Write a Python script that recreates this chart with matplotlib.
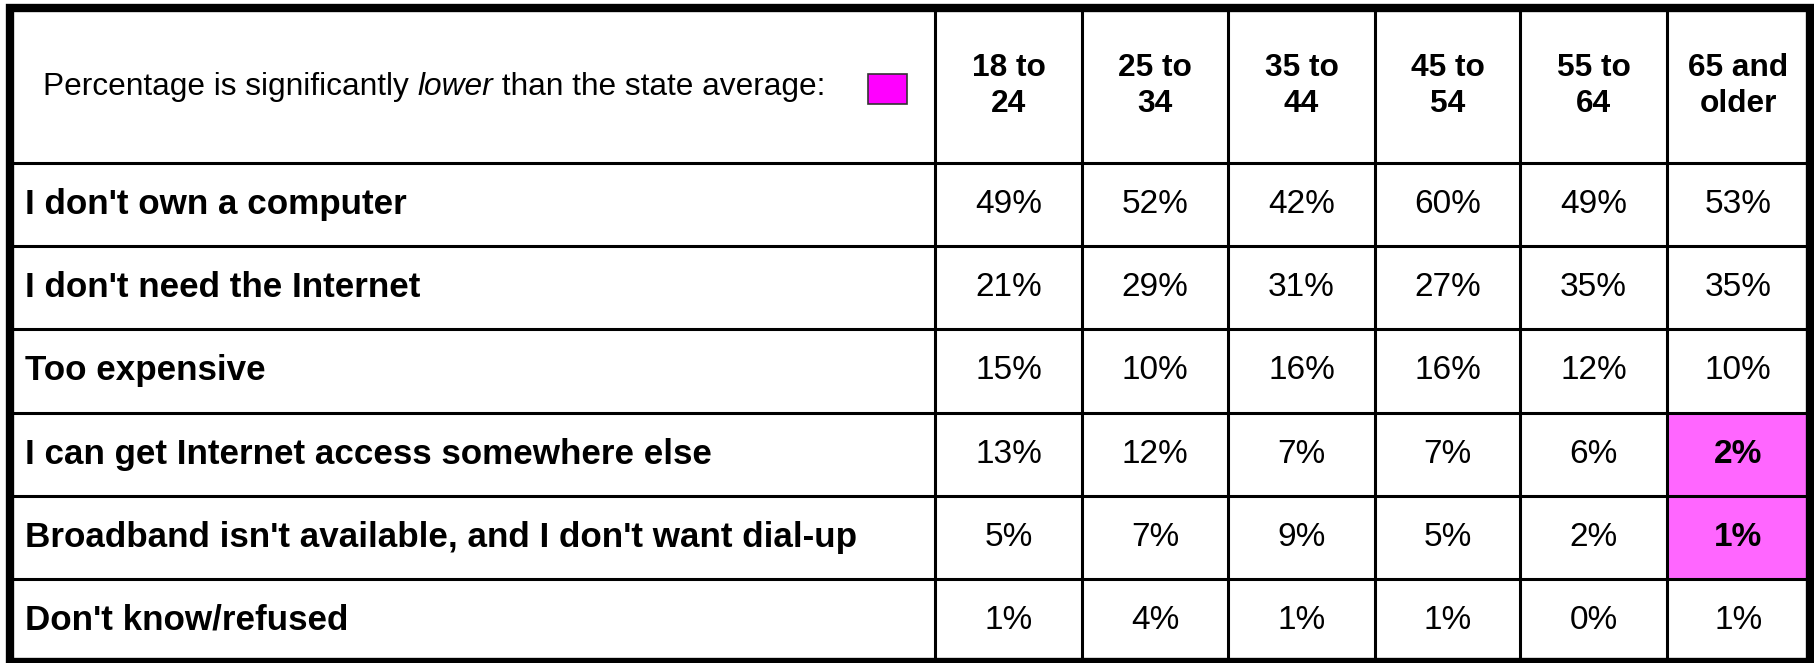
import matplotlib
matplotlib.use("Agg")
import matplotlib.pyplot as plt
from matplotlib.patches import Rectangle

plt.rcParams['font.family'] = ['Liberation Sans', 'DejaVu Sans']

# data
age_groups = ["18 to\n24", "25 to\n34", "35 to\n44", "45 to\n54", "55 to\n64", "65 and\nolder"]
reasons = ["I don't own a computer",
           "I don't need the Internet",
           "Too expensive",
           "I can get Internet access somewhere else",
           "Broadband isn't available, and I don't want dial-up",
           "Don't know/refused"]
pct_own_computer = [49, 52, 42, 60, 49, 53]
pct_need_internet = [21, 29, 31, 27, 35, 35]
pct_expensive = [15, 10, 16, 16, 12, 10]
pct_elsewhere = [13, 12, 7, 7, 6, 2]
pct_broadband = [5, 7, 9, 5, 2, 1]
pct_dont_know = [1, 4, 1, 1, 0, 1]
values = [pct_own_computer, pct_need_internet, pct_expensive,
          pct_elsewhere, pct_broadband, pct_dont_know]
# cells significantly lower than state average
lower_cells = [(3, 5), (4, 5)]

# layout (pixels)
W, H = 1814, 663
col_edges = [10, 935, 1082, 1228, 1375, 1520, 1667, 1809.5]
top, header_bottom, bottom = 7.5, 163, 662
row_h = (bottom - header_bottom) / len(reasons)
row_edges = [header_bottom + i * row_h for i in range(len(reasons) + 1)]
pink = "#ff66ff"

fig = plt.figure(figsize=(W / 100, H / 100), dpi=100)
ax = fig.add_axes([0, 0, 1, 1])
ax.set_xlim(0, W)
ax.set_ylim(H, 0)
ax.axis('off')

# highlighted cells
for r, c in lower_cells:
    ax.add_patch(Rectangle((col_edges[c + 1], row_edges[r]),
                           col_edges[c + 2] - col_edges[c + 1], row_h,
                           facecolor=pink, edgecolor='none', zorder=1))

# grid lines
for x in col_edges[1:-1]:
    ax.plot([x, x], [top, bottom], color='black', lw=2.2, zorder=2,
            solid_capstyle='butt')
for y in row_edges[:-1]:
    ax.plot([col_edges[0], col_edges[-1]], [y, y], color='black', lw=2.2,
            zorder=2, solid_capstyle='butt')
ax.add_patch(Rectangle((col_edges[0], top), col_edges[-1] - col_edges[0],
                       bottom - top, facecolor='none', edgecolor='black',
                       lw=6, zorder=3, joinstyle='miter'))

# column headers
hy = (top + header_bottom) / 2
for j, lab in enumerate(age_groups):
    xc = (col_edges[j + 1] + col_edges[j + 2]) / 2
    ax.text(xc, hy + 1, lab, ha='center', va='center', fontsize=22.8,
            fontweight='bold', linespacing=1.25, zorder=4)

# header note with italic word
fig.canvas.draw()
rend = fig.canvas.get_renderer()
x0 = 43
parts = [("Percentage is significantly ", 'normal'), ("lower", 'italic'),
         (" than the state average:", 'normal')]
for txt, style in parts:
    t = ax.text(x0, hy + 2, txt, ha='left', va='center', fontsize=22.8,
                fontstyle=style, zorder=4)
    bb = t.get_window_extent(renderer=rend)
    x0 += bb.width
ax.add_patch(Rectangle((868, 74), 39, 30, facecolor='#ff00ff',
                       edgecolor='#333333', lw=1.2, zorder=4))

# rows
for i, lab in enumerate(reasons):
    yc = row_edges[i] + row_h / 2
    ax.text(25, yc, lab, ha='left', va='center', fontsize=25.2,
            fontweight='bold', zorder=4)
    for j, v in enumerate(values[i]):
        xc = (col_edges[j + 1] + col_edges[j + 2]) / 2
        bold = (i, j) in lower_cells
        ax.text(xc, yc, f"{v}%", ha='center', va='center', fontsize=24,
                fontweight='bold' if bold else 'normal', zorder=4)

fig.savefig("out.png", dpi=100)
